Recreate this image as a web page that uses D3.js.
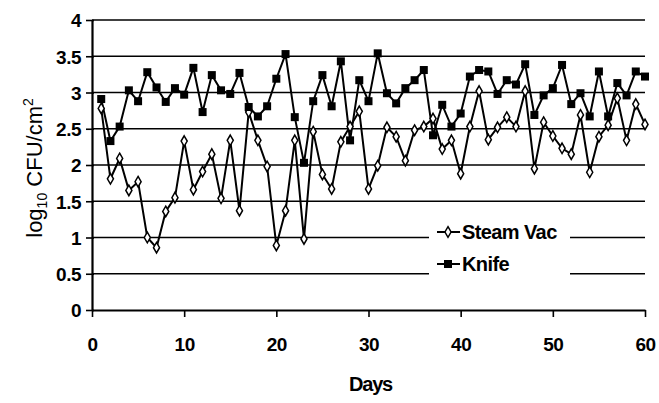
<!DOCTYPE html>
<html>
<head>
<meta charset="utf-8">
<script src="https://cdn.jsdelivr.net/npm/d3@7"></script>
<style>
  body { margin: 0; background: #fff; }
  text { font-family: "Liberation Sans", Arial, sans-serif; fill: #000; }
</style>
</head>
<body>
<script>
// sampling days
var days = d3.range(1, 61);

// log10 CFU/cm2
var steamVac = [2.78, 1.81, 2.09, 1.65, 1.77, 1.0, 0.86, 1.36, 1.55, 2.33,
                1.66, 1.91, 2.15, 1.54, 2.34, 1.37, 2.73, 2.34, 1.98, 0.89,
                1.37, 2.34, 0.98, 2.46, 1.87, 1.67, 2.32, 2.53, 2.74, 1.67,
                1.99, 2.52, 2.39, 2.06, 2.48, 2.53, 2.64, 2.22, 2.34, 1.88,
                2.53, 3.02, 2.35, 2.52, 2.66, 2.53, 3.02, 1.95, 2.59, 2.40,
                2.23, 2.15, 2.69, 1.90, 2.39, 2.55, 2.92, 2.34, 2.84, 2.56];

var knife = [2.91, 2.33, 2.53, 3.03, 2.88, 3.28, 3.07, 2.87, 3.06, 2.97,
             3.34, 2.73, 3.24, 3.03, 2.98, 3.27, 2.80, 2.67, 2.81, 3.19,
             3.53, 2.66, 2.03, 2.88, 3.24, 2.81, 3.43, 2.34, 3.17, 2.88,
             3.54, 2.99, 2.85, 3.06, 3.17, 3.31, 2.41, 2.83, 2.53, 2.71,
             3.22, 3.31, 3.29, 2.98, 3.17, 3.11, 3.39, 2.69, 2.96, 3.06,
             3.38, 2.84, 2.99, 2.67, 3.29, 2.67, 3.13, 2.96, 3.29, 3.22];

var xTicks = [0, 10, 20, 30, 40, 50, 60];
var yTicks = [0, 0.5, 1, 1.5, 2, 2.5, 3, 3.5, 4];

var width = 659,
    height = 403;

var svg = d3.select("body")
  .append("svg")
  .attr("width", width)
  .attr("height", height);

var x = d3.scaleLinear().domain([0, 60]).range([92, 645]);
var y = d3.scaleLinear().domain([0, 4]).range([310, 20]);

// horizontal grid lines
svg.append("g")
  .selectAll("line")
  .data(yTicks.filter(function(d){ return d > 0; }))
  .enter()
  .append("line")
  .attr("x1", x(0))
  .attr("x2", x(60))
  .attr("y1", function(d){ return y(d); })
  .attr("y2", function(d){ return y(d); })
  .attr("stroke", "#000")
  .attr("stroke-width", 1.6);

// legend background hides the grid behind it
svg.append("rect")
  .attr("x", 429)
  .attr("y", 214)
  .attr("width", 141)
  .attr("height", 76)
  .attr("fill", "#fff");

// axes
var yAxis = svg.append("g")
  .attr("transform", "translate(" + x(0) + ",0)")
  .call(d3.axisLeft(y).tickValues(yTicks).tickSize(6).tickSizeOuter(0)
    .tickFormat(function(d){ return d; }));

var xAxis = svg.append("g")
  .attr("transform", "translate(0," + y(0) + ")")
  .call(d3.axisBottom(x).tickValues(xTicks).tickSize(7).tickSizeOuter(0));

[yAxis, xAxis].forEach(function(a){
  a.select(".domain").attr("stroke-width", 2.2);
  a.selectAll(".tick line").attr("stroke-width", 1.6);
  a.selectAll("text")
    .style("font-family", "Liberation Sans, Arial, sans-serif")
    .style("font-size", "19px")
    .style("font-weight", "bold")
    .style("letter-spacing", "-0.5px")
    .attr("fill", "#000");
});
yAxis.selectAll(".tick line").attr("x2", -6).attr("x1", 2);
yAxis.selectAll("text").attr("x", -11).attr("dy", "0.36em");
xAxis.selectAll("text").attr("y", 28);

// lines
var line = d3.line()
  .x(function(d, i){ return x(days[i]); })
  .y(function(d){ return y(d); });

svg.append("path")
  .datum(steamVac)
  .attr("fill", "none")
  .attr("stroke", "#000")
  .attr("stroke-width", 2)
  .attr("d", line);

svg.append("path")
  .datum(knife)
  .attr("fill", "none")
  .attr("stroke", "#000")
  .attr("stroke-width", 2)
  .attr("d", line);

var diamond = d3.symbol().type(d3.symbolDiamond).size(32);

svg.append("g")
  .selectAll("path")
  .data(steamVac)
  .enter()
  .append("path")
  .attr("d", diamond)
  .attr("transform", function(d, i){ return "translate(" + x(days[i]) + "," + y(d) + ")"; })
  .attr("fill", "#fff")
  .attr("stroke", "#000")
  .attr("stroke-width", 1.5);

svg.append("g")
  .selectAll("rect")
  .data(knife)
  .enter()
  .append("rect")
  .attr("x", function(d, i){ return x(days[i]) - 4; })
  .attr("y", function(d){ return y(d) - 4; })
  .attr("width", 8)
  .attr("height", 8)
  .attr("fill", "#000");

// legend
var legend = svg.append("g");

legend.append("line")
  .attr("x1", 437).attr("x2", 460)
  .attr("y1", 232).attr("y2", 232)
  .attr("stroke", "#000").attr("stroke-width", 2);
legend.append("path")
  .attr("d", diamond)
  .attr("transform", "translate(448,232)")
  .attr("fill", "#fff").attr("stroke", "#000").attr("stroke-width", 1.5);
legend.append("text")
  .attr("x", 462).attr("y", 239)
  .style("font-size", "20px").style("font-weight", "bold")
  .style("letter-spacing", "-0.6px")
  .text("Steam Vac");

legend.append("line")
  .attr("x1", 437).attr("x2", 460)
  .attr("y1", 264).attr("y2", 264)
  .attr("stroke", "#000").attr("stroke-width", 2);
legend.append("rect")
  .attr("x", 444).attr("y", 260).attr("width", 8).attr("height", 8)
  .attr("fill", "#000");
legend.append("text")
  .attr("x", 462).attr("y", 271)
  .style("font-size", "20px").style("font-weight", "bold")
  .style("letter-spacing", "-0.6px")
  .text("Knife");

// axis titles
svg.append("text")
  .attr("x", x(30) + 2)
  .attr("y", 391)
  .attr("text-anchor", "middle")
  .style("font-size", "20px").style("font-weight", "bold")
  .style("letter-spacing", "-1.2px")
  .text("Days");

var yTitle = svg.append("text")
  .attr("transform", "translate(42,168) rotate(-90)")
  .attr("text-anchor", "middle")
  .style("font-size", "22px");
yTitle.append("tspan").text("log");
yTitle.append("tspan").attr("dy", 5).style("font-size", "14px").text("10");
yTitle.append("tspan").attr("dy", -5).text(" CFU/cm");
yTitle.append("tspan").attr("dy", -9).style("font-size", "14px").text("2");
</script>
</body>
</html>
